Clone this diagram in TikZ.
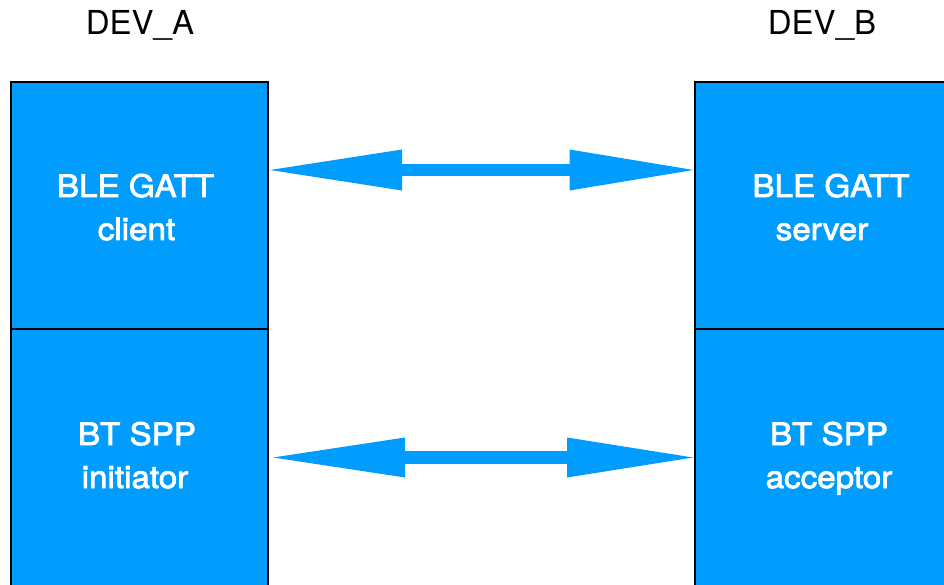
\documentclass[tikz,border=0pt]{standalone}
\usepackage{fontspec}
\setmainfont{TeX Gyre Heros}
\newfontfamily\boxfont{TeX Gyre Heros}[FakeStretch=1.07, RawFeature={embolden=2.5}]
\usetikzlibrary{arrows.meta}
\definecolor{boxblue}{RGB}{0,157,255}
\tikzset{
  devbox/.style={draw=black, line width=2pt, fill=boxblue, inner sep=0pt},
  boxtext/.style={text=white, anchor=base, inner sep=0pt, font=\boxfont\fontsize{31}{36}\selectfont},
  devlabel/.style={font=\fontsize{33}{38}\selectfont, anchor=base, inner sep=0pt},
  biarrow/.style={draw=boxblue, line width=12pt,
    {Triangle[length=132pt,width=41pt,line width=0pt]}-{Triangle[length=124pt,width=41pt,line width=0pt]}}
}
\begin{document}
\begin{tikzpicture}[x=1pt,y=-1pt]
\useasboundingbox (0,0) rectangle (944,585);
\clip (0,0) rectangle (944,585);
\fill[white] (0,0) rectangle (944,585);
% left device
\node[devbox, minimum width=257pt, minimum height=246.7pt] (ga) at (139.5,205.3) {};
\node[devbox, minimum width=257pt, minimum height=257.3pt] (sa) at (139.5,457.3) {};
% right device
\node[devbox, minimum width=272pt, minimum height=246.7pt] (gb) at (831,205.3) {};
\node[devbox, minimum width=272pt, minimum height=257.3pt] (sb) at (831,457.3) {};
% box texts
\node[boxtext] (ga1) at (135.5,197) {BLE GATT};
\node[boxtext] (ga2) at (136.5,240) {client};
\node[boxtext] (sa1) at (137,445) {BT SPP};
\node[boxtext] (sa2) at (135,488) {initiator};
\node[boxtext] (gb1) at (831,197) {BLE GATT};
\node[boxtext] (gb2) at (822,240) {server};
\node[boxtext] (sb1) at (829,445) {BT SPP};
\node[boxtext] (sb2) at (829,488) {acceptor};
% labels
\node[devlabel] (la) at (140,35) {DEV\_A};
\node[devlabel] (lb) at (822,35) {DEV\_B};
% arrows
\coordinate (a1) at ([xshift=1pt]ga.east |- 0,170);
\coordinate (b1) at ([xshift=-0.5pt]gb.west |- 0,170);
\coordinate (a2) at ([xshift=4pt]sa.east |- 0,457.5);
\coordinate (b2) at ([xshift=-1pt]sb.west |- 0,457.5);
\draw[biarrow] (a1) -- (b1);
\draw[biarrow, line width=13pt,
  {Triangle[length=132pt,width=40pt,line width=0pt]}-{Triangle[length=126pt,width=40pt,line width=0pt]}] (a2) -- (b2);
\end{tikzpicture}
\end{document}
